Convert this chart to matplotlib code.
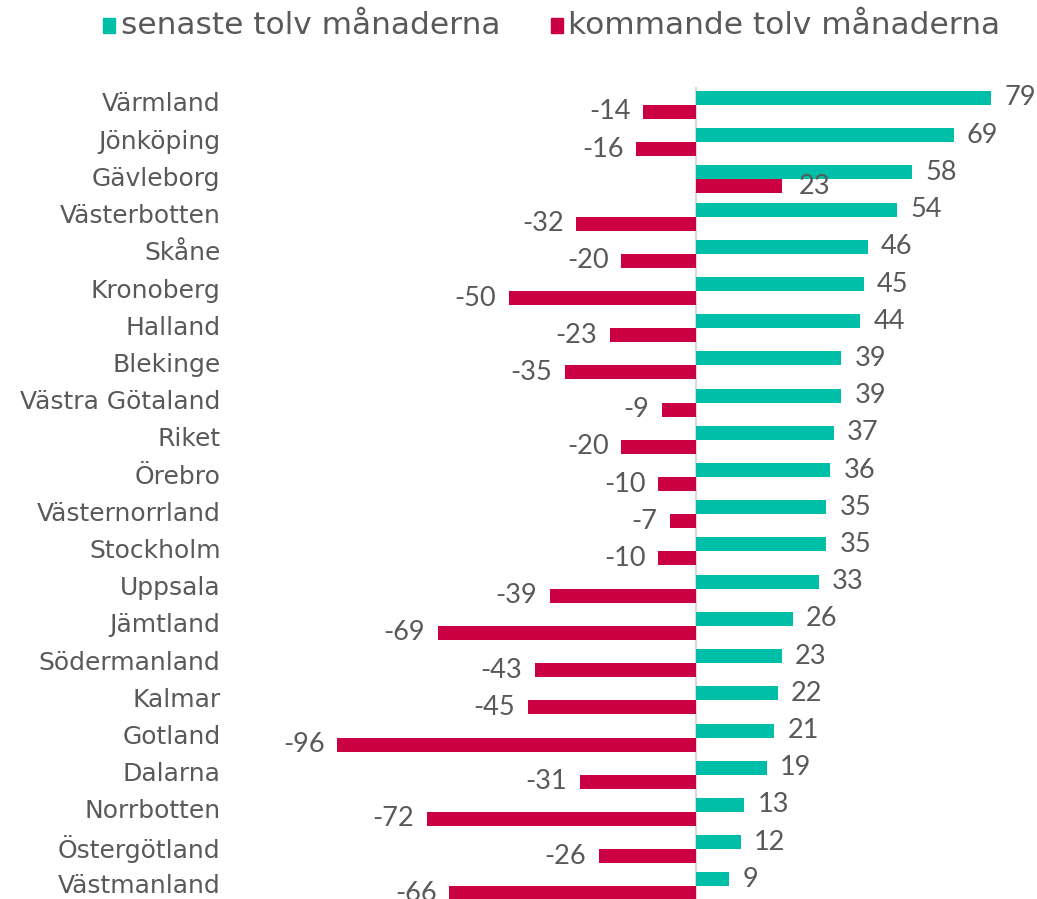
import matplotlib
matplotlib.use("Agg")
import matplotlib.pyplot as plt
from matplotlib.patches import Rectangle
from matplotlib.transforms import ScaledTranslation

categories = ["Värmland", "Jönköping", "Gävleborg", "Västerbotten", "Skåne", "Kronoberg",
              "Halland", "Blekinge", "Västra Götaland", "Riket", "Örebro", "Västernorrland",
              "Stockholm", "Uppsala", "Jämtland", "Södermanland", "Kalmar", "Gotland",
              "Dalarna", "Norrbotten", "Östergötland", "Västmanland"]
senaste = [79, 69, 58, 54, 46, 45, 44, 39, 39, 37, 36, 35, 35, 33, 26, 23, 22, 21, 19, 13, 12, 9]
kommande = [-14, -16, 23, -32, -20, -50, -23, -35, -9, -20, -10, -7, -10, -39, -69, -43, -45,
            -96, -31, -72, -26, -66]
series_names = ["senaste tolv månaderna", "kommande tolv månaderna"]

TEAL = "#00BFA8"
RED = "#CA0042"
GREY = "#595959"
FONT = "Lato"
LFONT = "DejaVu Sans"

W, H = 1037, 899
fig = plt.figure(figsize=(W / 100, H / 100), dpi=100)

L_px, R_px, T_px = 322, 1032, 75
ax = fig.add_axes([L_px / W, 0, (R_px - L_px) / W, (H - T_px) / H])
ax.set_xlim(-100, 90)
ax.set_ylim(21.34, -0.806)

bh = 0.376
y = list(range(len(categories)))
ax.barh([v - bh / 2 for v in y], senaste, height=bh, color=TEAL, zorder=2)
ax.barh([v + bh / 2 for v in y], kommande, height=bh, color=RED, zorder=2)
ax.plot([0, 0], [-0.46, 21.34], color="#D9D9D9", lw=1.5, zorder=1)

fs_val = 19.5
for i, (s, k) in enumerate(zip(senaste, kommande)):
    ax.annotate(str(s), (s, i - bh / 2), xytext=(9.5, 0), textcoords="offset points",
                ha="left", va="center", fontsize=fs_val, color=GREY, family=FONT)
    if k < 0:
        ax.annotate(str(k), (k, i + bh / 2), xytext=(-9, 0), textcoords="offset points",
                    ha="right", va="center", fontsize=fs_val, color=GREY, family=FONT)
    else:
        ax.annotate(str(k), (k, i + bh / 2), xytext=(12, 0), textcoords="offset points",
                    ha="left", va="center", fontsize=fs_val, color=GREY, family=FONT)

ax.set_yticks(y)
ax.set_yticklabels(categories, fontsize=18, color=GREY, family=LFONT)
ax.tick_params(axis="y", length=0, pad=73)
shift = ScaledTranslation(0, 3 / 100, fig.dpi_scale_trans)
for lab in ax.get_yticklabels():
    lab.set_transform(lab.get_transform() + shift)
ax.set_xticks([])
for sp in ax.spines.values():
    sp.set_visible(False)
ax.patch.set_alpha(0)

# legend
leg_y = 25
items = [(103, 121, TEAL, series_names[0]), (551, 568, RED, series_names[1])]
for sx, tx, col, name in items:
    fig.patches.append(Rectangle((sx / W, 1 - 33 / H), 12 / W, 15 / H,
                                 transform=fig.transFigure, color=col))
    fig.text(tx / W, 1 - leg_y / H, name, ha="left", va="center", fontsize=22.5,
             color=GREY, family=LFONT)

fig.savefig("out.png", dpi=100)
